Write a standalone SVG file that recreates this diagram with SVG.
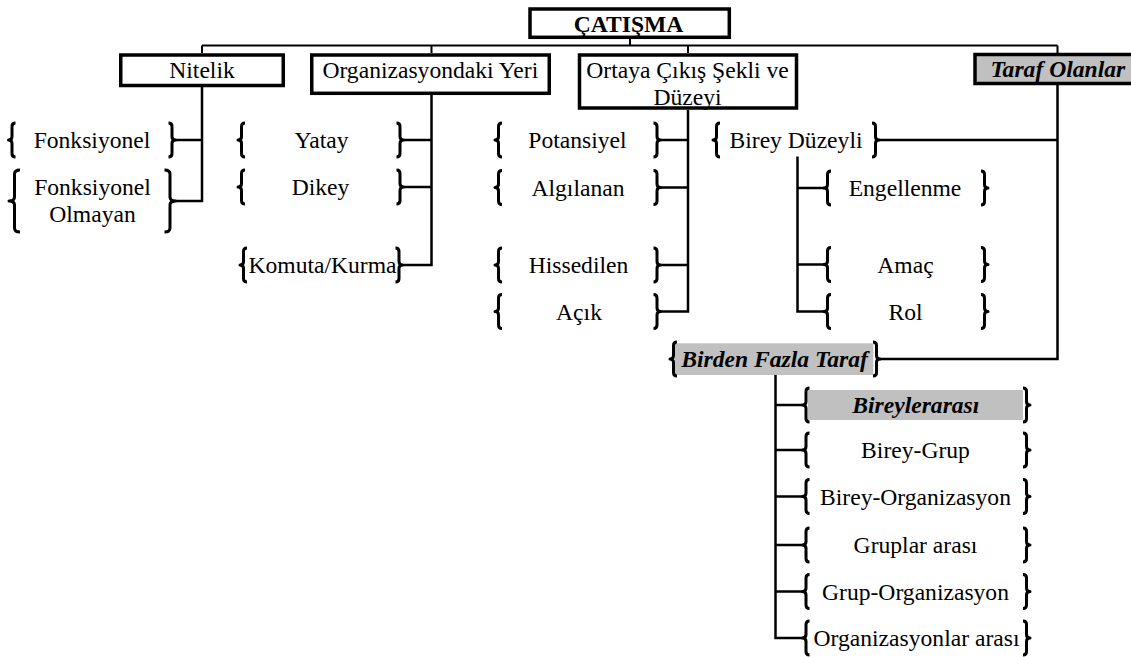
<svg xmlns="http://www.w3.org/2000/svg" xmlns:xlink="http://www.w3.org/1999/xlink" width="1131" height="657" viewBox="0 0 1131 657">
<style>
.t{font-family:'Liberation Serif',Tinos,'Times New Roman','DejaVu Serif',serif;font-size:23.6px;text-anchor:middle;fill:#000}
.b{font-weight:bold}
.bi{font-weight:bold;font-style:italic}
.box{fill:none;stroke:#000;stroke-width:3.5}
.gray{fill:#c0c0c0;stroke:none}
.br{fill:none;stroke:#000;stroke-width:3;stroke-linejoin:round}
.ln{fill:none;stroke:#000;stroke-width:2.5}
.top{fill:none;stroke:#000;stroke-width:2}
</style>
<defs>
<path id="lb" class="br" d="M7,-17 Q3.5,-17 3.5,-13.5 L3.5,-3.5 Q3.5,0 0,0 Q3.5,0 3.5,3.5 L3.5,13.5 Q3.5,17 7,17"/>
<path id="rb" class="br" d="M-7,-17 Q-3.5,-17 -3.5,-13.5 L-3.5,-3.5 Q-3.5,0 0,0 Q-3.5,0 -3.5,3.5 L-3.5,13.5 Q-3.5,17 -7,17"/>
</defs>
<rect width="1131" height="657" fill="#fff"/>

<g id="connectors">
<path class="top" d="M202,45.5 H1057.5 M630,39 V45.5 M202,45.5 V53 M431.5,45.5 V53 M688,45.5 V53 M1057.5,45.5 V53"/>
<path class="ln" d="M202,87 V201 H175.5 M175.5,140 H202"/>
<path class="ln" d="M431.5,95 V265 H402.5 M403.5,140 H431.5 M403.5,187 H431.5"/>
<path class="ln" d="M688,110 V311.5 H660.5 M660.5,140 H688 M660.5,187.5 H688 M660.5,265 H688"/>
<path class="ln" d="M1057.5,85 V359 H880 M879,140 H1057.5"/>
<path class="ln" d="M797.5,156.5 V311.5 H824 M797.5,188 H824 M797.5,264.5 H824"/>
<path class="ln" d="M775.5,375 V638 H802.5 M775.5,405 H802.5 M775.5,450 H802.5 M775.5,496.5 H802.5 M775.5,545 H802.5 M775.5,591.5 H802.5"/>
</g>

<g id="catisma">
<text class="t b" x="628.5" y="31.5">ÇATIŞMA</text>
<rect class="box" x="530" y="9" width="199.3" height="28.3"/>
</g>
<g id="nitelik">
<text class="t" x="202" y="78.3">Nitelik</text>
<rect class="box" x="120.75" y="55" width="162.5" height="30.5"/>
</g>
<g id="organizasyondaki-yeri">
<text class="t" x="430.3" y="78.3">Organizasyondaki Yeri</text>
<rect class="box" x="311.75" y="55" width="237.5" height="38.3"/>
</g>
<g id="ortaya-cikis">
<text class="t" x="687.5" y="78.3">Ortaya Çıkış Şekli ve</text>
<text class="t" x="687.5" y="104.5">Düzeyi</text>
<rect class="box" x="579.5" y="55" width="217" height="53"/>
</g>
<g id="taraf-olanlar">
<rect class="gray" x="975" y="54.5" width="170" height="29"/>
<text class="t bi" x="1057.8" y="76.7">Taraf Olanlar</text>
<rect class="box" x="975" y="54.5" width="170" height="29"/>
</g>

<g id="fonksiyonel">
<use xlink:href="#lb" x="8.5" y="140"/><use xlink:href="#rb" x="175.5" y="140"/>
<text class="t" x="92" y="147.5">Fonksiyonel</text>
</g>
<g id="fonksiyonel-olmayan">
<path class="br" d="M20,170 Q14.5,170 14.5,174 L14.5,197 Q14.5,201 9,201 Q14.5,201 14.5,205 L14.5,228 Q14.5,232 20,232"/>
<path class="br" d="M164.5,170 Q170,170 170,174 L170,197 Q170,201 175.5,201 Q170,201 170,205 L170,228 Q170,232 164.5,232"/>
<text class="t" x="92.5" y="195">Fonksiyonel</text>
<text class="t" x="92.5" y="222">Olmayan</text>
</g>

<g id="yatay">
<use xlink:href="#lb" x="238" y="140"/><use xlink:href="#rb" x="403.5" y="140"/>
<text class="t" x="321.5" y="148">Yatay</text>
</g>
<g id="dikey">
<use xlink:href="#lb" x="238" y="187"/><use xlink:href="#rb" x="403.5" y="187"/>
<text class="t" x="320.5" y="195">Dikey</text>
</g>
<g id="komuta-kurma">
<use xlink:href="#lb" x="240" y="265"/><use xlink:href="#rb" x="402.5" y="265"/>
<text class="t" x="322.5" y="273">Komuta/Kurma</text>
</g>

<g id="potansiyel">
<use xlink:href="#lb" x="495" y="140"/><use xlink:href="#rb" x="660.5" y="140"/>
<text class="t" x="577.5" y="148">Potansiyel</text>
</g>
<g id="algilanan">
<use xlink:href="#lb" x="495" y="187.5"/><use xlink:href="#rb" x="660.5" y="187.5"/>
<text class="t" x="578" y="195.5">Algılanan</text>
</g>
<g id="hissedilen">
<use xlink:href="#lb" x="495" y="265"/><use xlink:href="#rb" x="660.5" y="265"/>
<text class="t" x="578.5" y="273">Hissedilen</text>
</g>
<g id="acik">
<use xlink:href="#lb" x="495" y="311.5"/><use xlink:href="#rb" x="660.5" y="311.5"/>
<text class="t" x="579" y="319.5">Açık</text>
</g>

<g id="birey-duzeyli">
<use xlink:href="#lb" x="713" y="140"/><use xlink:href="#rb" x="879" y="140"/>
<text class="t" x="796" y="148">Birey Düzeyli</text>
</g>
<g id="engellenme">
<use xlink:href="#lb" x="824" y="188"/><use xlink:href="#rb" x="988" y="188"/>
<text class="t" x="905" y="196">Engellenme</text>
</g>
<g id="amac">
<use xlink:href="#lb" x="824" y="264.5"/><use xlink:href="#rb" x="988" y="264.5"/>
<text class="t" x="905.5" y="272.5">Amaç</text>
</g>
<g id="rol">
<use xlink:href="#lb" x="824" y="311.5"/><use xlink:href="#rb" x="988" y="311.5"/>
<text class="t" x="905.5" y="319.5">Rol</text>
</g>

<g id="birden-fazla-taraf">
<rect class="gray" x="675" y="343.3" width="198.3" height="31.7"/>
<use xlink:href="#lb" x="670" y="359"/><use xlink:href="#rb" x="880" y="359"/>
<text class="t bi" x="774.5" y="366.5">Birden Fazla Taraf</text>
</g>

<g id="bireylerarasi">
<rect class="gray" x="808" y="390" width="215" height="30"/>
<use xlink:href="#lb" x="802.5" y="405"/><use xlink:href="#rb" x="1030" y="405"/>
<text class="t bi" x="915.8" y="413">Bireylerarası</text>
</g>
<g id="birey-grup">
<use xlink:href="#lb" x="802.5" y="450"/><use xlink:href="#rb" x="1030" y="450"/>
<text class="t" x="915.5" y="458">Birey-Grup</text>
</g>
<g id="birey-organizasyon">
<use xlink:href="#lb" x="802.5" y="496.5"/><use xlink:href="#rb" x="1030" y="496.5"/>
<text class="t" x="915.5" y="504.5">Birey-Organizasyon</text>
</g>
<g id="gruplar-arasi">
<use xlink:href="#lb" x="802.5" y="545"/><use xlink:href="#rb" x="1030" y="545"/>
<text class="t" x="915.5" y="553">Gruplar arası</text>
</g>
<g id="grup-organizasyon">
<use xlink:href="#lb" x="802.5" y="591.5"/><use xlink:href="#rb" x="1030" y="591.5"/>
<text class="t" x="915.5" y="599.5">Grup-Organizasyon</text>
</g>
<g id="organizasyonlar-arasi">
<use xlink:href="#lb" x="802.5" y="638"/><use xlink:href="#rb" x="1030" y="638"/>
<text class="t" x="916.5" y="646">Organizasyonlar arası</text>
</g>
</svg>
